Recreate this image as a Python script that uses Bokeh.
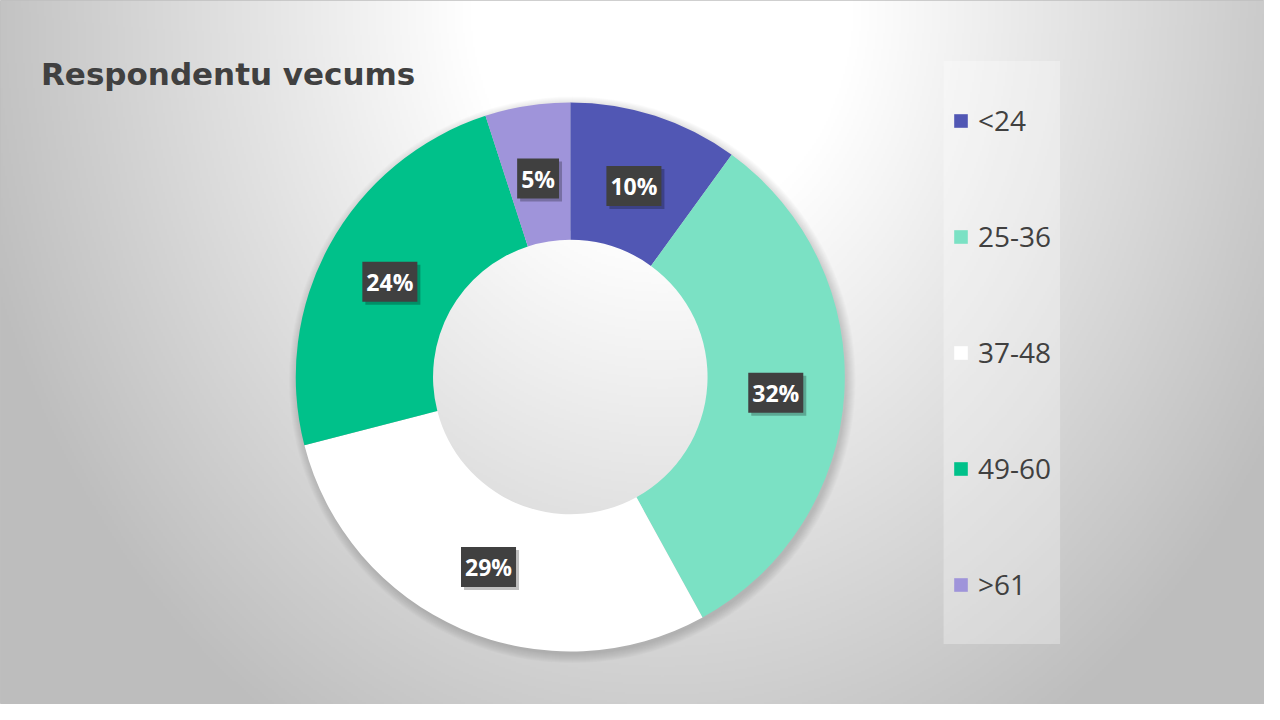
import numpy as np
from bokeh.plotting import figure
from bokeh.models import Range1d, Legend, LegendItem, Label, BoxAnnotation, ColumnDataSource
from bokeh.core.properties import value
from bokeh.embed import file_html
from bokeh.resources import INLINE

# data
groups = ["<24", "25-36", "37-48", "49-60", ">61"]
shares = [10, 32, 29, 24, 5]
colors = ["#5157B4", "#7BE1C4", "#FFFFFF", "#00C18A", "#9F94DA"]
title_text = "Respondentu vecums"

W, H = 1264, 704
cx, cy = 577, 335          # ring centre, in 1280x720 layout units (y up)
r_out, r_in = 278, 139

p = figure(width=W, height=H, output_backend="svg", toolbar_location=None,
           x_range=Range1d(0, 1280), y_range=Range1d(0, 720),
           min_border=0)
p.axis.visible = False
p.grid.visible = False
p.outline_line_color = "#BFBFBF"
p.background_fill_color = "#E0E0E0"
p.border_fill_color = "#E0E0E0"

# radial background
ny, nx = 360, 640
xs = np.linspace(0, 1280, nx)
ys = np.linspace(0, 720, ny)
X, Y = np.meshgrid(xs, ys)
PY = 720 - Y
r = np.sqrt(((X - 670) / 650) ** 2 + (PY / 800) ** 2)
v = 255 - 57 * np.clip((r - 0.3) / 0.7, 0, 1.15)
img = np.empty((ny, nx), dtype=np.uint32)
view = img.view(dtype=np.uint8).reshape((ny, nx, 4))
g = v.astype(np.uint8)
view[:, :, 0] = g
view[:, :, 1] = g
view[:, :, 2] = g
view[:, :, 3] = 255
p.image_rgba(image=[img], x=0, y=0, dw=1280, dh=720)

# soft shadow behind the ring
for k in range(10):
    p.annulus(x=cx + 2, y=cy - 3, inner_radius=r_in + 12, outer_radius=r_out + k,
              fill_color="black", fill_alpha=0.014, line_alpha=0)

# donut
frac = np.array(shares) / sum(shares)
cum = np.concatenate([[0], np.cumsum(frac)])
start = np.pi / 2 - 2 * np.pi * cum[:-1]
end = np.pi / 2 - 2 * np.pi * cum[1:]
src = ColumnDataSource(dict(group=groups, start=start, end=end, color=colors))
ring = p.annular_wedge(x=cx, y=cy, inner_radius=r_in, outer_radius=r_out,
                       start_angle="start", end_angle="end", direction="clock",
                       fill_color="color", line_color=None, source=src)

# labels
mid = np.pi / 2 - 2 * np.pi * (cum[:-1] + cum[1:]) / 2
rl = (r_in + r_out) / 2
lab = ColumnDataSource(dict(x=cx + rl * np.cos(mid), y=cy + rl * np.sin(mid) - 3,
                            text=[f"{s}%" for s in shares]))
p.text(x="x", y="y", text="text", source=lab, x_offset=3, y_offset=3,
       text_align="center", text_baseline="middle",
       text_font=value("Open Sans"), text_font_style="bold", text_font_size="23px",
       text_alpha=0, background_fill_color="black", background_fill_alpha=0.25,
       padding=[4, 4, 4, 4])
p.text(x="x", y="y", text="text", source=lab,
       text_align="center", text_baseline="middle",
       text_font=value("Open Sans"), text_font_style="bold", text_font_size="23px",
       text_color="white", background_fill_color="#404040",
       padding=[4, 4, 4, 4])

# title
p.add_layout(Label(x=41, y=720 - 75, text=title_text, text_font="DejaVu Sans",
                   text_font_style="bold", text_font_size="31px", text_color="#404040",
                   text_baseline="middle"))

# legend panel
p.add_layout(BoxAnnotation(left=955, right=1073, bottom=720 - 658, top=720 - 62,
                           fill_color="white", fill_alpha=0.3, line_alpha=0))

items = [LegendItem(label=gname, renderers=[ring], index=i) for i, gname in enumerate(groups)]
legend = Legend(items=items, location=(940, 88), orientation="vertical",
                label_text_font="Open Sans", label_text_font_size="28px",
                label_text_color="#404040", glyph_width=17, glyph_height=17,
                label_height=40, label_standoff=9, spacing=76, padding=12,
                background_fill_alpha=0, border_line_alpha=0)
p.add_layout(legend)

open("out.html", "w").write(file_html(p, INLINE))
